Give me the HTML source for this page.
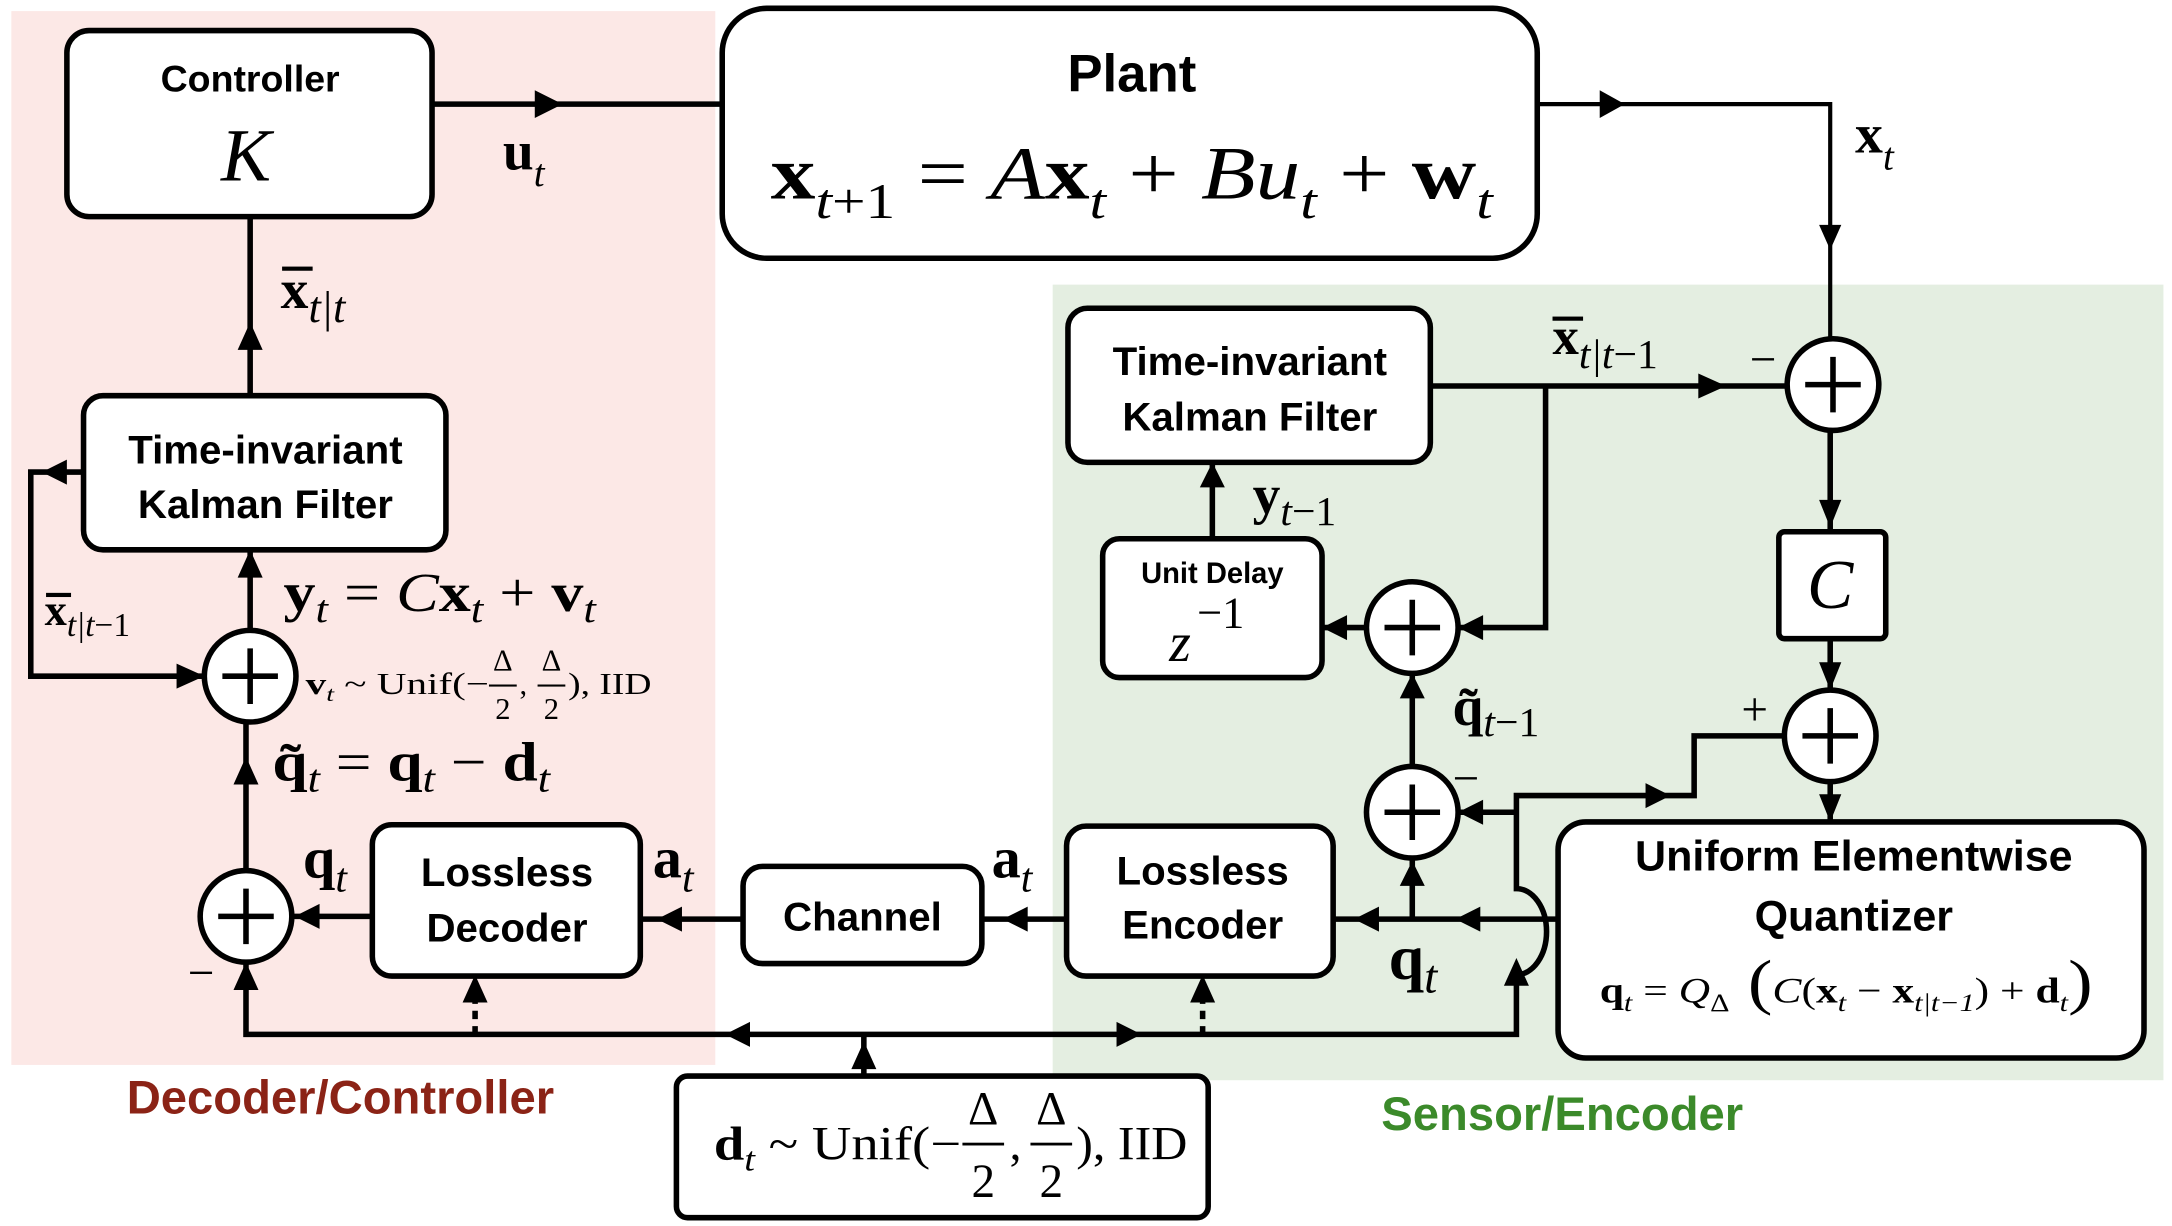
<!DOCTYPE html>
<html><head><meta charset="utf-8"><style>
html,body{margin:0;padding:0;background:#fff;}
svg{display:block;}
.b{font-family:"Liberation Sans",sans-serif;font-weight:bold;}
.m{font-family:"Liberation Serif",serif;}
</style></head><body>
<svg width="2172" height="1226" viewBox="0 0 1564 883" xmlns="http://www.w3.org/2000/svg">
<rect x="8" y="8" width="507" height="759" fill="#fce8e6"/>
<rect x="758" y="205" width="800" height="573" fill="#e4eee1"/>

<g fill="none" stroke="#000" stroke-width="4">
<path d="M311 75 H520"/>
<path d="M1107 75 H1318 V244" stroke-width="3"/>
<path d="M1030 278 H1287"/>
<path d="M1113 278 V452 H1050"/>
<path d="M1318 310 V383"/>
<path d="M1318 460 V497"/>
<path d="M1318 563 V592"/>
<path d="M1122 662 H960"/>
<path d="M1017 662 V618"/>
<path d="M1017 552 V485"/>
<path d="M984 452 H952"/>
<path d="M873 388 V333"/>
<path d="M768 662 H707"/>
<path d="M535 662 H461"/>
<path d="M268 660 H210"/>
<path d="M177 693 V745 H1092 V702 A14 20 0 0 0 1092 640 V573 H1220 V530 H1285"/>
<path d="M1092 585 H1050"/>
<path d="M622 775 V745"/>
<path d="M177 627 V520"/>
<path d="M180 454 V396"/>
<path d="M180 285 V156"/>
<path d="M60 340 H22 V487 H147"/>
<path d="M342 745 V712" stroke-dasharray="6 5"/>
<path d="M866 745 V712" stroke-dasharray="6 5"/>
</g>

<g fill="#000">
<polygon points="405,75 385,65 385,85"/>
<polygon points="1170,75 1152,65 1152,85"/>
<polygon points="1318,180 1310,162 1326,162"/>
<polygon points="1243,278 1223,269 1223,287"/>
<polygon points="1050,452 1068,443 1068,461"/>
<polygon points="1318,380 1310,360 1326,360"/>
<polygon points="1318,497 1310,477 1326,477"/>
<polygon points="1318,592 1310,572 1326,572"/>
<polygon points="1050,585 1068,576 1068,594"/>
<polygon points="1203,573 1185,564 1185,582"/>
<polygon points="1092,690 1083,710 1101,710"/>
<polygon points="1048,662 1066,653 1066,671"/>
<polygon points="975,662 993,653 993,671"/>
<polygon points="1017,620 1008,638 1026,638"/>
<polygon points="1017,485 1008,503 1026,503"/>
<polygon points="952,452 970,443 970,461"/>
<polygon points="873,333 864,351 882,351"/>
<polygon points="722,662 740,653 740,671"/>
<polygon points="473,662 491,653 491,671"/>
<polygon points="212,660 230,651 230,669"/>
<polygon points="177,693 168,713 186,713"/>
<polygon points="522,745 540,736 540,754"/>
<polygon points="822,745 804,736 804,754"/>
<polygon points="622,750 613,770 631,770"/>
<polygon points="342,702 333,722 351,722"/>
<polygon points="866,702 857,722 875,722"/>
<polygon points="177,545 168,565 186,565"/>
<polygon points="180,396 171,416 189,416"/>
<polygon points="180,232 171,252 189,252"/>
<polygon points="30,340 48,331 48,349"/>
<polygon points="147,487 127,478 127,496"/>
</g>

<g fill="#fff" stroke="#000" stroke-width="4">
<rect x="48" y="22" width="263" height="134" rx="16"/>
<rect x="520" y="6" width="587" height="180" rx="32"/>
<rect x="769" y="222" width="261" height="111" rx="14"/>
<rect x="794" y="388" width="158" height="100" rx="12"/>
<rect x="1281" y="383" width="77" height="77" rx="4"/>
<rect x="1122" y="592" width="422" height="170" rx="20"/>
<rect x="768" y="595" width="192" height="108" rx="14"/>
<rect x="535" y="624" width="172" height="70" rx="14"/>
<rect x="268" y="594" width="193" height="109" rx="14"/>
<rect x="60" y="285" width="261" height="111" rx="14"/>
<rect x="487" y="775" width="383" height="102" rx="8"/>
<circle cx="1320" cy="277" r="33"/>
<circle cx="1318" cy="530" r="33"/>
<circle cx="1017" cy="452" r="33"/>
<circle cx="1017" cy="585" r="33"/>
<circle cx="177" cy="660" r="33"/>
<circle cx="180" cy="487" r="33"/>
</g>
<g stroke="#000" stroke-width="4">
<path d="M1300 277 H1340 M1320 257 V297"/>
<path d="M1298 530 H1338 M1318 510 V550"/>
<path d="M997 452 H1037 M1017 432 V472"/>
<path d="M997 585 H1037 M1017 565 V605"/>
<path d="M157 660 H197 M177 640 V680"/>
<path d="M160 487 H200 M180 467 V507"/>
</g>

<g class="b" text-anchor="middle" fill="#000">
<text x="180" y="66" font-size="27">Controller</text>
<text x="815" y="66" font-size="38">Plant</text>
<text x="900" y="270" font-size="29">Time-invariant</text>
<text x="900" y="310" font-size="29">Kalman Filter</text>
<text x="191" y="334" font-size="29">Time-invariant</text>
<text x="191" y="373" font-size="29">Kalman Filter</text>
<text x="873" y="420" font-size="21">Unit Delay</text>
<text x="1335" y="627" font-size="31">Uniform Elementwise</text>
<text x="1335" y="670" font-size="31">Quantizer</text>
<text x="866" y="637" font-size="29">Lossless</text>
<text x="866" y="676" font-size="29">Encoder</text>
<text x="621" y="670" font-size="29">Channel</text>
<text x="365" y="638" font-size="29">Lossless</text>
<text x="365" y="678" font-size="29">Decoder</text>
<text x="245" y="802" font-size="34" fill="#8b2316">Decoder/Controller</text>
<text x="1125" y="814" font-size="34" fill="#3b8a2a">Sensor/Encoder</text>
</g>

<g class="m" fill="#000">
<text x="177" y="130" font-size="54" font-style="italic" text-anchor="middle">K</text>
<text x="555" y="143" font-size="54" textLength="520" lengthAdjust="spacingAndGlyphs"><tspan font-weight="bold">x</tspan><tspan font-size="36" dy="14" font-style="italic">t</tspan><tspan font-size="36">+1</tspan><tspan dy="-14"> = </tspan><tspan font-style="italic">A</tspan><tspan font-weight="bold">x</tspan><tspan font-size="36" dy="14" font-style="italic">t</tspan><tspan dy="-14"> + </tspan><tspan font-style="italic">Bu</tspan><tspan font-size="36" dy="14" font-style="italic">t</tspan><tspan dy="-14"> + </tspan><tspan font-weight="bold">w</tspan><tspan font-size="36" dy="14" font-style="italic">t</tspan></text>
<text x="362" y="122" font-size="40"><tspan font-weight="bold">u</tspan><tspan font-size="28" dy="12" font-style="italic">t</tspan></text>
<text x="1336" y="110" font-size="40"><tspan font-weight="bold">x</tspan><tspan font-size="28" dy="12" font-style="italic">t</tspan></text>
<text x="1118" y="255" font-size="38"><tspan font-weight="bold">x</tspan><tspan font-size="30" dy="10" font-style="italic">t|t</tspan><tspan font-size="30">−1</tspan></text>
<rect x="1118" y="228" width="22" height="3"/>
<text x="1260" y="270" font-size="34">−</text>
<text x="1254" y="522" font-size="34">+</text>
<text x="1318" y="438" font-size="50" font-style="italic" text-anchor="middle">C</text>
<text x="842" y="476" font-size="40" font-style="italic">z</text>
<text x="862" y="452" font-size="32">−1</text>
<text x="902" y="370" font-size="40"><tspan font-weight="bold">y</tspan><tspan font-size="30" dy="8" font-style="italic">t</tspan><tspan font-size="30">−1</tspan></text>
<text x="1046" y="522" font-size="40"><tspan font-weight="bold">q̃</tspan><tspan font-size="30" dy="8" font-style="italic">t</tspan><tspan font-size="30">−1</tspan></text>
<text x="1046" y="572" font-size="34">−</text>
<text x="1000" y="705" font-size="46"><tspan font-weight="bold">q</tspan><tspan font-size="34" dy="10" font-style="italic">t</tspan></text>
<text x="1152" y="722" font-size="26" textLength="355" lengthAdjust="spacingAndGlyphs"><tspan font-weight="bold">q</tspan><tspan font-size="18" dy="6" font-style="italic">t</tspan><tspan dy="-6"> = </tspan><tspan font-style="italic">Q</tspan><tspan font-size="18" dy="6">Δ</tspan><tspan dy="-6" font-size="44"> (</tspan><tspan font-style="italic">C</tspan>(<tspan font-weight="bold">x</tspan><tspan font-size="18" dy="6" font-style="italic">t</tspan><tspan dy="-6"> − </tspan><tspan font-weight="bold">x</tspan><tspan font-size="18" dy="6" font-style="italic">t|t−1</tspan><tspan dy="-6">) + </tspan><tspan font-weight="bold">d</tspan><tspan font-size="18" dy="6" font-style="italic">t</tspan><tspan dy="-6" font-size="44">)</tspan></text>
<text x="220" y="500" font-size="22" textLength="132" lengthAdjust="spacingAndGlyphs"><tspan font-weight="bold">v</tspan><tspan font-size="15" dy="5" font-style="italic">t</tspan><tspan dy="-5"> ~ Unif(−</tspan></text>
<text x="362" y="483" font-size="22" text-anchor="middle">Δ</text><rect x="352" y="493" width="20" height="1.5"/><text x="362" y="518" font-size="22" text-anchor="middle">2</text>
<text x="374" y="500" font-size="22">,</text>
<text x="397" y="483" font-size="22" text-anchor="middle">Δ</text><rect x="387" y="493" width="20" height="1.5"/><text x="397" y="518" font-size="22" text-anchor="middle">2</text>
<text x="409" y="500" font-size="22" textLength="60" lengthAdjust="spacingAndGlyphs">), IID</text>
<text x="714" y="632" font-size="42"><tspan font-weight="bold">a</tspan><tspan font-size="30" dy="10" font-style="italic">t</tspan></text>
<text x="470" y="632" font-size="42"><tspan font-weight="bold">a</tspan><tspan font-size="30" dy="10" font-style="italic">t</tspan></text>
<text x="218" y="632" font-size="42"><tspan font-weight="bold">q</tspan><tspan font-size="30" dy="10" font-style="italic">t</tspan></text>
<text x="135" y="712" font-size="34">−</text>
<text x="196" y="562" font-size="40" textLength="200" lengthAdjust="spacingAndGlyphs"><tspan font-weight="bold">q̃</tspan><tspan font-size="28" dy="8" font-style="italic">t</tspan><tspan dy="-8"> = </tspan><tspan font-weight="bold">q</tspan><tspan font-size="28" dy="8" font-style="italic">t</tspan><tspan dy="-8"> − </tspan><tspan font-weight="bold">d</tspan><tspan font-size="28" dy="8" font-style="italic">t</tspan></text>
<text x="204" y="440" font-size="40" textLength="225" lengthAdjust="spacingAndGlyphs"><tspan font-weight="bold">y</tspan><tspan font-size="28" dy="8" font-style="italic">t</tspan><tspan dy="-8"> = </tspan><tspan font-style="italic">C</tspan><tspan font-weight="bold">x</tspan><tspan font-size="28" dy="8" font-style="italic">t</tspan><tspan dy="-8"> + </tspan><tspan font-weight="bold">v</tspan><tspan font-size="28" dy="8" font-style="italic">t</tspan></text>
<text x="32" y="450" font-size="32"><tspan font-weight="bold">x</tspan><tspan font-size="24" dy="8" font-style="italic">t|t</tspan><tspan font-size="24">−1</tspan></text>
<rect x="33" y="427" width="18" height="3"/>
<text x="202" y="222" font-size="40"><tspan font-weight="bold">x</tspan><tspan font-size="32" dy="10" font-style="italic">t|t</tspan></text>
<rect x="203" y="192" width="22" height="3"/>
<text x="514" y="835" font-size="34" textLength="178" lengthAdjust="spacingAndGlyphs"><tspan font-weight="bold">d</tspan><tspan font-size="24" dy="8" font-style="italic">t</tspan><tspan dy="-8"> ~ Unif(−</tspan></text>
<text x="708" y="810" font-size="34" text-anchor="middle">Δ</text><rect x="693" y="823" width="30" height="2"/><text x="708" y="862" font-size="34" text-anchor="middle">2</text>
<text x="727" y="835" font-size="34">,</text>
<text x="757" y="810" font-size="34" text-anchor="middle">Δ</text><rect x="742" y="823" width="30" height="2"/><text x="757" y="862" font-size="34" text-anchor="middle">2</text>
<text x="775" y="835" font-size="34" textLength="80" lengthAdjust="spacingAndGlyphs">), IID</text>
</g>
</svg>
</body></html>
